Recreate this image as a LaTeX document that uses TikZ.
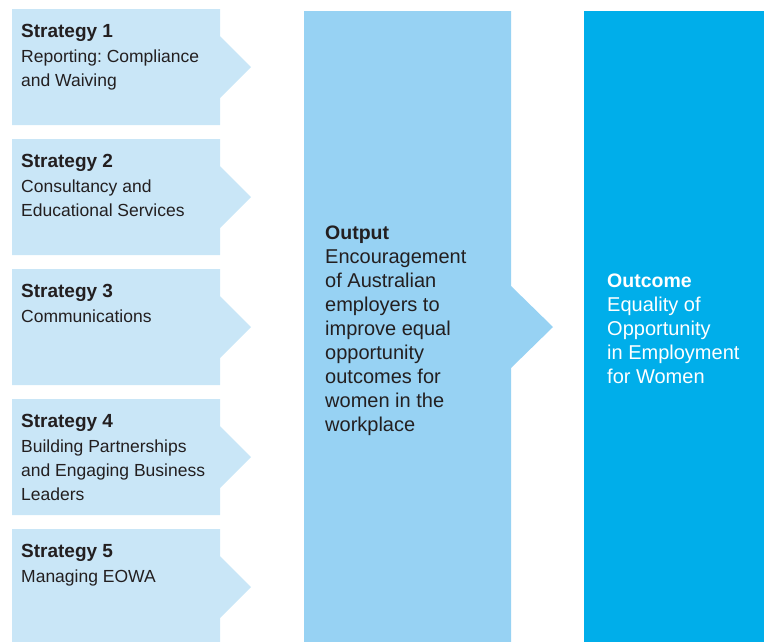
\documentclass[tikz,border=0pt]{standalone}
\usepackage{fontspec}
\setmainfont{Liberation Sans}
\frenchspacing
\definecolor{stratfill}{HTML}{C9E6F7}
\definecolor{outfill}{HTML}{97D2F3}
\definecolor{outcomefill}{HTML}{00AEEA}
\definecolor{txt}{HTML}{231F20}
\begin{document}
\begin{tikzpicture}[x=1pt,y=-1pt,
  title/.style={anchor=base west,inner sep=0pt,text=txt,font=\fontsize{19}{24}\selectfont\bfseries},
  body/.style={anchor=base west,inner sep=0pt,text=txt,align=left,font=\fontsize{17.5}{24}\selectfont},
  bigbody/.style={anchor=base west,inner sep=0pt,text=txt,align=left,font=\fontsize{20}{24}\selectfont},
  bigtitle/.style={anchor=base west,inner sep=0pt,text=txt,font=\fontsize{19.5}{24}\selectfont\bfseries}]
\useasboundingbox (0,0) rectangle (764,641);
\begin{scope}
\clip (0,0) rectangle (764,641);
% strategy shapes
\foreach \i in {0,...,4}{
  \pgfmathsetmacro{\top}{9+130*\i}
  \pgfmathsetmacro{\bot}{125+130*\i}
  \pgfmathsetmacro{\cy}{67+130*\i}
  \fill[stratfill] (12,\top) -- (220,\top) -- (220,\cy-31) -- (251,\cy) -- (220,\cy+31) -- (220,\bot) -- (12,\bot) -- cycle;
}
% output shape
\fill[outfill] (304,11) -- (511,11) -- (511,286) -- (553,327) -- (511,368) -- (511,650) -- (304,650) -- cycle;
% outcome
\fill[outcomefill] (584,11) rectangle (764,650);
\end{scope}
% strategy texts (multi-line nodes: base = baseline of last line)
\node[title] (t1) at (21,37) {Strategy 1};
\node[body] (b1) at (21,86) {Reporting: Compliance\\and Waiving};
\node[title] (t2) at (21,167) {Strategy 2};
\node[body] (b2) at (21,216) {Consultancy and\\Educational Services};
\node[title] (t3) at (21,297) {Strategy 3};
\node[body] (b3) at (21,322) {Communications};
\node[title] (t4) at (21,427) {Strategy 4};
\node[body] (b4) at (21,500) {Building Partnerships\\and Engaging Business\\Leaders};
\node[title] (t5) at (21,557) {Strategy 5};
\node[body] (b5) at (21,582) {Managing EOWA};
% output text
\node[bigtitle] (ot) at (325,239) {Output};
\node[bigbody] (ob) at (325,431) {Encouragement\\of Australian\\employers to\\improve equal\\opportunity\\outcomes for\\women in the\\workplace};
% outcome text
\node[bigtitle,text=white] (ct) at (607,287) {Outcome};
\node[bigbody,text=white] (cb) at (607,383) {Equality of\\Opportunity\\in Employment\\for Women};
\end{tikzpicture}
\end{document}
